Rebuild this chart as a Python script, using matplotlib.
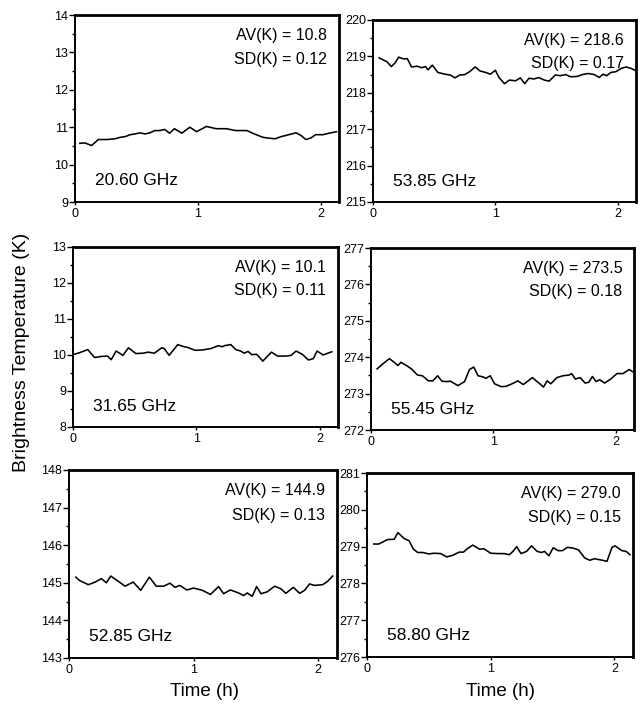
import matplotlib
matplotlib.use("Agg")
import matplotlib.pyplot as plt
from matplotlib.ticker import MultipleLocator

plt.rcParams['font.family'] = ['Liberation Sans', 'DejaVu Sans']

# ---------------- data ----------------
freq_labels = ["20.60 GHz", "53.85 GHz", "31.65 GHz", "55.45 GHz", "52.85 GHz", "58.80 GHz"]
av_values = ["10.8", "218.6", "10.1", "273.5", "144.9", "279.0"]
sd_values = ["0.12", "0.17", "0.11", "0.18", "0.13", "0.15"]
y_limits = [(9, 14), (215, 220), (8, 13), (272, 277), (143, 148), (276, 281)]

t_2060 = [0.04, 0.08, 0.135, 0.19, 0.26, 0.325, 0.37, 0.41, 0.45, 0.49, 0.53, 0.57, 0.61,
          0.65, 0.69, 0.73, 0.77, 0.81, 0.87, 0.935, 0.99, 1.07, 1.15, 1.23, 1.31, 1.40,
          1.46, 1.53, 1.57, 1.63, 1.68, 1.73, 1.80, 1.84, 1.88, 1.92, 1.96, 2.02, 2.07, 2.13]
tb_2060 = [10.57, 10.58, 10.51, 10.67, 10.67, 10.69, 10.73, 10.75, 10.80, 10.82, 10.85,
           10.82, 10.85, 10.91, 10.91, 10.94, 10.84, 10.96, 10.84, 11.00, 10.88, 11.02,
           10.96, 10.96, 10.91, 10.91, 10.82, 10.73, 10.71, 10.69, 10.75, 10.79, 10.85,
           10.78, 10.67, 10.71, 10.80, 10.80, 10.84, 10.88]

t_5385 = [0.05, 0.08, 0.115, 0.15, 0.18, 0.21, 0.25, 0.28, 0.315, 0.36, 0.40, 0.43, 0.45,
          0.485, 0.53, 0.59, 0.63, 0.67, 0.71, 0.75, 0.79, 0.835, 0.875, 0.92, 0.96, 1.0,
          1.03, 1.075, 1.115, 1.165, 1.205, 1.24, 1.275, 1.315, 1.355, 1.40, 1.44, 1.49,
          1.53, 1.575, 1.615, 1.67, 1.71, 1.76, 1.81, 1.85, 1.88, 1.91, 1.945, 1.985,
          2.03, 2.07, 2.11, 2.14]
tb_5385 = [218.96, 218.91, 218.85, 218.72, 218.82, 218.98, 218.93, 218.94, 218.71, 218.73,
            218.69, 218.72, 218.63, 218.76, 218.56, 218.51, 218.49, 218.41, 218.49, 218.50,
            218.58, 218.71, 218.60, 218.56, 218.51, 218.62, 218.42, 218.25, 218.35, 218.33,
            218.41, 218.25, 218.40, 218.38, 218.42, 218.35, 218.32, 218.49, 218.47, 218.50,
            218.44, 218.45, 218.50, 218.53, 218.50, 218.42, 218.51, 218.47, 218.56, 218.58,
            218.67, 218.71, 218.67, 218.62]

t_3165 = [0.01, 0.05, 0.12, 0.175, 0.23, 0.28, 0.31, 0.35, 0.405, 0.45, 0.51, 0.57, 0.61,
          0.66, 0.72, 0.74, 0.78, 0.85, 0.89, 0.93, 0.99, 1.05, 1.12, 1.18, 1.21, 1.23,
          1.28, 1.32, 1.36, 1.39, 1.42, 1.45, 1.49, 1.54, 1.61, 1.66, 1.73, 1.77, 1.81,
          1.86, 1.91, 1.95, 1.98, 2.03, 2.06, 2.10]
tb_3165 = [10.02, 10.06, 10.15, 9.93, 9.96, 9.97, 9.87, 10.11, 9.99, 10.20, 10.04, 10.05,
           10.08, 10.05, 10.20, 10.18, 9.99, 10.29, 10.24, 10.21, 10.13, 10.14, 10.18, 10.26,
           10.23, 10.26, 10.29, 10.15, 10.11, 10.05, 10.10, 10.01, 10.02, 9.83, 10.08, 9.97,
           9.97, 9.99, 10.11, 10.02, 9.86, 9.90, 10.11, 10.00, 10.04, 10.09]

t_5545 = [0.05, 0.095, 0.15, 0.19, 0.22, 0.245, 0.29, 0.33, 0.38, 0.42, 0.47, 0.505, 0.545,
          0.58, 0.615, 0.65, 0.71, 0.765, 0.805, 0.84, 0.875, 0.915, 0.94, 0.975, 1.01,
          1.065, 1.105, 1.16, 1.20, 1.245, 1.285, 1.32, 1.35, 1.38, 1.41, 1.44, 1.47, 1.52,
          1.57, 1.62, 1.64, 1.67, 1.71, 1.75, 1.78, 1.81, 1.84, 1.87, 1.91, 1.96, 2.01,
          2.06, 2.11, 2.14]
tb_5545 = [273.68, 273.81, 273.96, 273.86, 273.77, 273.86, 273.77, 273.68, 273.51, 273.49,
           273.35, 273.35, 273.49, 273.34, 273.33, 273.34, 273.22, 273.33, 273.66, 273.73,
           273.49, 273.46, 273.42, 273.49, 273.27, 273.19, 273.20, 273.28, 273.35, 273.25,
           273.35, 273.44, 273.35, 273.27, 273.18, 273.35, 273.27, 273.44, 273.49, 273.51,
           273.55, 273.40, 273.44, 273.29, 273.31, 273.47, 273.33, 273.38, 273.29, 273.40,
           273.55, 273.55, 273.66, 273.60]

t_5285 = [0.055, 0.085, 0.155, 0.21, 0.26, 0.30, 0.335, 0.395, 0.45, 0.515, 0.575, 0.645,
          0.70, 0.76, 0.81, 0.85, 0.89, 0.945, 1.0, 1.07, 1.135, 1.20, 1.24, 1.295, 1.36,
          1.40, 1.43, 1.47, 1.505, 1.54, 1.59, 1.65, 1.70, 1.74, 1.80, 1.85, 1.89, 1.93,
          1.97, 2.035, 2.075, 2.115]
tb_5285 = [145.15, 145.06, 144.95, 145.02, 145.11, 145.00, 145.18, 145.04, 144.91, 145.02,
           144.80, 145.15, 144.91, 144.91, 144.99, 144.88, 144.93, 144.81, 144.86, 144.80,
           144.69, 144.90, 144.71, 144.81, 144.73, 144.66, 144.73, 144.64, 144.90, 144.71,
           144.76, 144.91, 144.84, 144.72, 144.88, 144.72, 144.80, 144.97, 144.93, 144.95,
           145.04, 145.18]

t_5880 = [0.055, 0.095, 0.165, 0.22, 0.25, 0.30, 0.34, 0.375, 0.41, 0.45, 0.50, 0.54,
          0.595, 0.645, 0.69, 0.745, 0.78, 0.81, 0.855, 0.91, 0.945, 1.0, 1.06, 1.11, 1.15,
          1.18, 1.21, 1.245, 1.29, 1.33, 1.375, 1.41, 1.435, 1.47, 1.505, 1.545, 1.58, 1.62,
          1.665, 1.71, 1.76, 1.80, 1.84, 1.90, 1.94, 1.98, 2.005, 2.06, 2.095, 2.125]
tb_5880 = [279.07, 279.07, 279.19, 279.20, 279.38, 279.22, 279.16, 278.93, 278.84, 278.84,
           278.80, 278.82, 278.81, 278.72, 278.76, 278.85, 278.85, 278.94, 279.04, 278.93,
           278.94, 278.82, 278.81, 278.81, 278.78, 278.87, 279.00, 278.81, 278.87, 279.02,
           278.87, 278.84, 278.87, 278.75, 278.97, 278.89, 278.89, 278.98, 278.96, 278.91,
           278.69, 278.63, 278.67, 278.63, 278.60, 278.98, 279.02, 278.89, 278.87, 278.78]

times = [t_2060, t_5385, t_3165, t_5545, t_5285, t_5880]
temps = [tb_2060, tb_5385, tb_3165, tb_5545, tb_5285, tb_5880]
x_ticks = [0, 1, 2]

# ---------------- layout (pixel boxes: left, right, top, bottom) ----------------
W, H = 643, 709
boxes = [(75, 339, 15, 202), (373, 636, 20, 202),
         (73, 338, 247, 427), (371, 634, 248, 430),
         (69, 337, 470, 658), (367, 633, 473, 657)]

fig = plt.figure(figsize=(W / 100, H / 100), dpi=100)

for i in range(6):
    l, r, t, b = boxes[i]
    ax = fig.add_axes([l / W, 1 - b / H, (r - l) / W, (b - t) / H])
    ax.plot(times[i], temps[i], color='black', lw=1.15)
    ax.set_xlim(0, 2.15)
    ax.set_ylim(*y_limits[i])
    ax.set_xticks(x_ticks)
    ax.set_xticklabels([str(v) for v in x_ticks])
    ax.yaxis.set_major_locator(MultipleLocator(1))
    ax.yaxis.set_minor_locator(MultipleLocator(0.5))
    ax.tick_params(axis='y', which='major', direction='out', length=4, width=1.0,
                   labelsize=9, pad=1)
    ax.tick_params(axis='y', which='minor', direction='out', length=2.5, width=1.0)
    ax.tick_params(axis='x', which='major', direction='out', length=2, width=1.0,
                   labelsize=9, pad=2)
    for side in ['left', 'bottom']:
        ax.spines[side].set_linewidth(1.4)
    for side in ['top', 'right']:
        ax.spines[side].set_linewidth(2.0)
    ax.text(0.955, 0.93, "AV(K) = " + av_values[i], transform=ax.transAxes,
            ha='right', va='top', fontsize=11.5)
    ax.text(0.955, 0.80, "SD(K) = " + sd_values[i], transform=ax.transAxes,
            ha='right', va='top', fontsize=11.5)
    ax.text(0.075, 0.09, freq_labels[i], transform=ax.transAxes,
            ha='left', va='baseline', fontsize=12.5)

fig.text(22 / W, 1 - 352 / H, "Brightness Temperature (K)", rotation=90,
         ha='center', va='center', fontsize=14)
fig.text(205 / W, 1 - 692 / H, "Time (h)", ha='center', va='center', fontsize=13.5)
fig.text(500 / W, 1 - 692 / H, "Time (h)", ha='center', va='center', fontsize=13.5)

fig.savefig("out.png", dpi=100)
